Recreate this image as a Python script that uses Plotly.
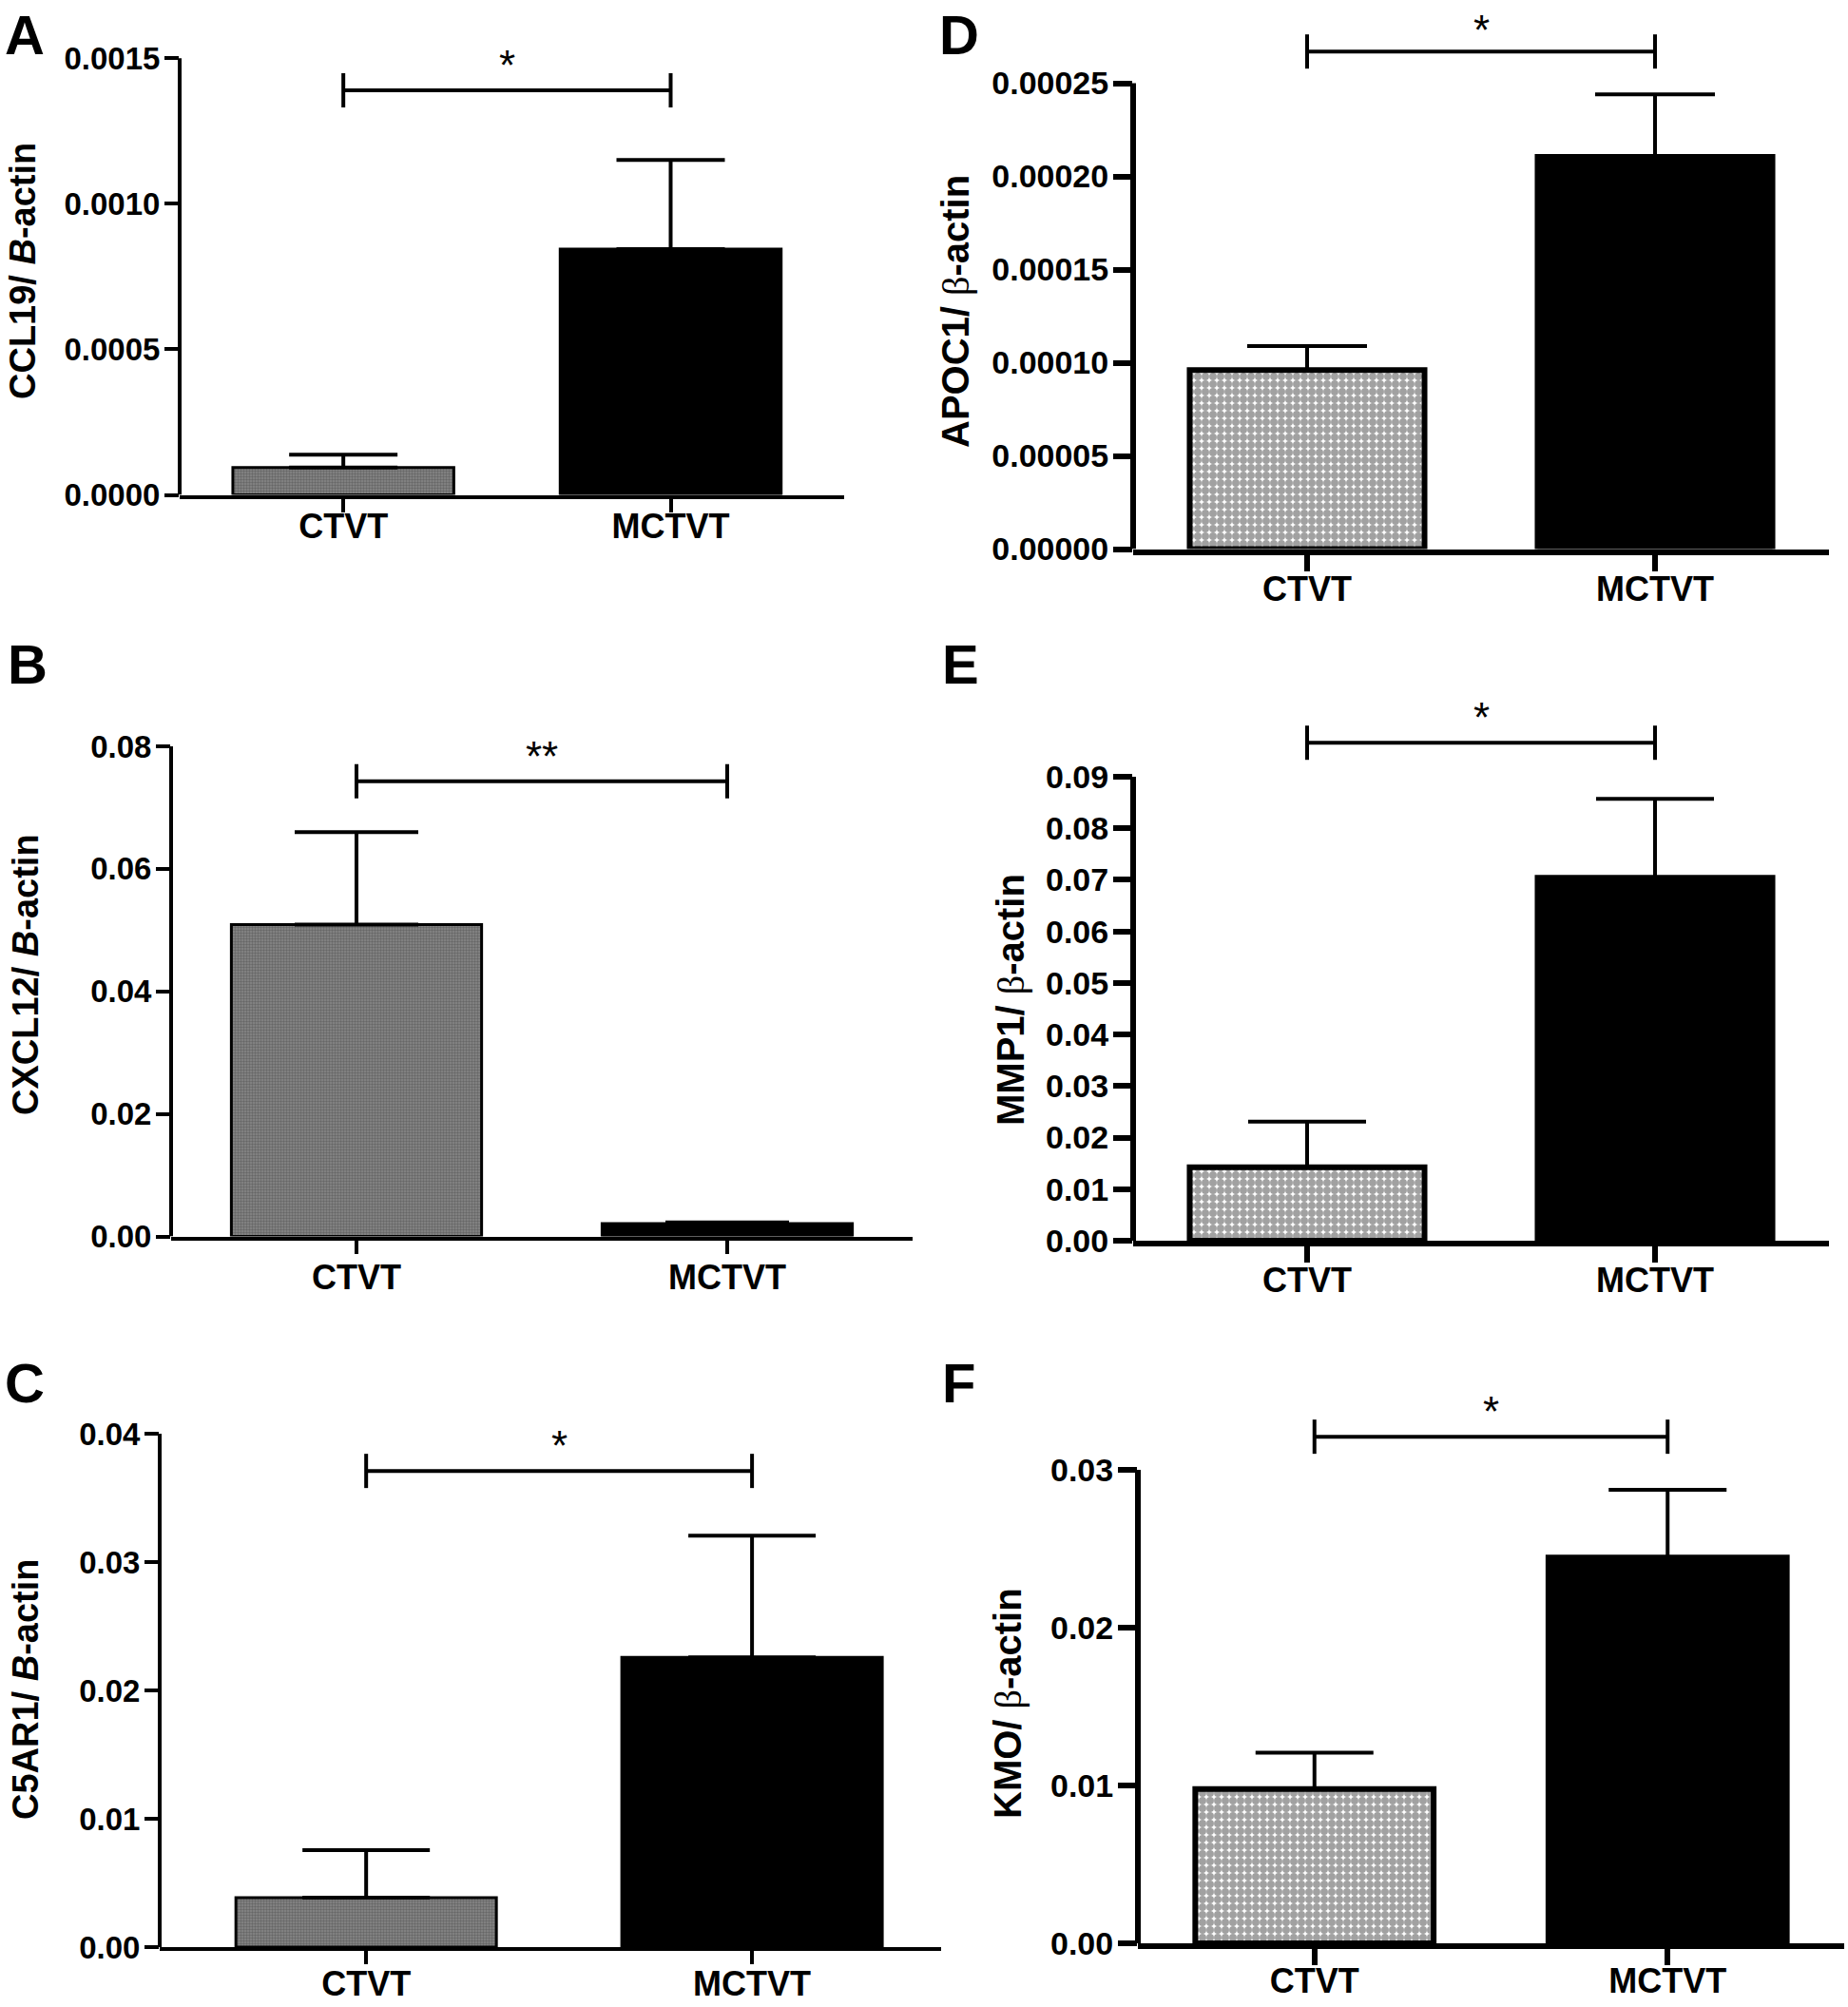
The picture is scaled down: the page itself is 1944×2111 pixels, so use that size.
import plotly.graph_objects as go

W, H = 1944, 2111

# ---- data ----
categories = ["CTVT", "MCTVT"]
panel_letters = ["A", "B", "C", "D", "E", "F"]

ccl19_mean = [0.0000938, 0.000844]
ccl19_sem = [0.000044, 0.000306]

cxcl12_mean = [0.0509, 0.0021]
cxcl12_sem = [0.0151, 0.0002]

c5ar1_mean = [0.00386, 0.02258]
c5ar1_sem = [0.0037, 0.00947]

apoc1_mean = [0.0000960, 0.0002105]
apoc1_sem = [0.0000129, 0.0000335]

mmp1_mean = [0.01425, 0.0704]
mmp1_sem = [0.00885, 0.0153]

kmo_mean = [0.00978, 0.02445]
kmo_sem = [0.0023, 0.00429]

bracket_y = [0.00139, 0.0743, 0.0371, 0.000267, 0.0966, 0.0321]
stars = ["*", "**", "*", "*", "*", "*"]

ticks_a = [0, 0.0005, 0.0010, 0.0015]
ticks_a_text = ["0.0000", "0.0005", "0.0010", "0.0015"]
ticks_b = [0, 0.02, 0.04, 0.06, 0.08]
ticks_b_text = ["0.00", "0.02", "0.04", "0.06", "0.08"]
ticks_c = [0, 0.01, 0.02, 0.03, 0.04]
ticks_c_text = ["0.00", "0.01", "0.02", "0.03", "0.04"]
ticks_d = [0, 0.00005, 0.00010, 0.00015, 0.00020, 0.00025]
ticks_d_text = ["0.00000", "0.00005", "0.00010", "0.00015", "0.00020", "0.00025"]
ticks_e = [0, 0.01, 0.02, 0.03, 0.04, 0.05, 0.06, 0.07, 0.08, 0.09]
ticks_e_text = ["0.00", "0.01", "0.02", "0.03", "0.04", "0.05", "0.06", "0.07", "0.08", "0.09"]
ticks_f = [0, 0.01, 0.02, 0.03]
ticks_f_text = ["0.00", "0.01", "0.02", "0.03"]

beta = "<span style='font-weight:normal;font-family:\"Liberation Serif\", serif'>\u03b2</span>"
titles = [
    "CCL19/ <i>B</i>-actin",
    "CXCL12/ <i>B</i>-actin",
    "C5AR1/ <i>B</i>-actin",
    "APOC1/ " + beta + "-actin",
    "MMP1/ " + beta + "-actin",
    "KMO/ " + beta + "-actin",
]

means = [ccl19_mean, cxcl12_mean, c5ar1_mean, apoc1_mean, mmp1_mean, kmo_mean]
sems = [ccl19_sem, cxcl12_sem, c5ar1_sem, apoc1_sem, mmp1_sem, kmo_sem]
ticks = [ticks_a, ticks_b, ticks_c, ticks_d, ticks_e, ticks_f]
tick_text = [ticks_a_text, ticks_b_text, ticks_c_text, ticks_d_text, ticks_e_text, ticks_f_text]

# ---- layout geometry (pixels in the 1944x2111 canvas) ----
# x_left, x_right, x_range_left, x_range_right, y_zero, y_toptick, y_domtop
geom = [
    (189, 888, -0.5, 1.53, 520.5, 61.2, 20),
    (180, 960, -0.5, 1.5, 1300.6, 785, 740),
    (168, 990, -0.535, 1.49, 2048, 1508, 1470),
    (1192, 1924, -0.5, 1.5, 577.5, 87.5, 0),
    (1192, 1924, -0.5, 1.5, 1305, 817, 720),
    (1197, 1940, -0.5, 1.5, 2044, 1546, 1450),
]
letter_pos = [(3, 36), (6, 698), (3, 1454), (986, 36), (989, 698), (989, 1454)]
title_pos = [(24, 285), (27, 1025), (27, 1777), (1006, 328), (1063, 1052), (1060, 1792)]
title_size = [38, 38, 38, 40, 40, 40]
cap_half = [57, 65, 67, 63, 62, 62]
xlabel_shift = [-16, -6, -10, -12, -12, -14]
star_shift = [0, 0, 0, -4, 0, 0]

FONT = "Liberation Sans, Arial, sans-serif"

fig = go.Figure()
layout = dict(
    width=W, height=H,
    margin=dict(l=0, r=0, t=0, b=0, autoexpand=False),
    paper_bgcolor="white", plot_bgcolor="white",
    showlegend=False,
    shapes=[], annotations=[],
)

for i in range(6):
    n = "" if i == 0 else str(i + 1)
    xl, xr, r0, r1, yz, yt, ydt = geom[i]
    heavy = i >= 3
    lw = 6 if heavy else 4
    top_val = ticks[i][-1]
    y_top = top_val * (yz - ydt) / (yz - yt)

    if heavy:
        # coarse black/white checker for panels D-F
        pat = dict(shape=[".", ""], fgcolor=["black", "black"], bgcolor=["white", "black"],
                   size=8, solidity=0.76)
        colors = ["white", "black"]
        edge = 6
    else:
        # fine grey stipple for panels A-C
        pat = dict(shape=[".", ""], fgcolor=["#4a4a4a", "black"], bgcolor=["#c8c8c8", "black"],
                   size=3, solidity=0.5)
        colors = ["#888888", "black"]
        edge = 3

    fig.add_trace(go.Bar(
        x=categories, y=means[i],
        width=0.675,
        marker=dict(color=colors, pattern=pat, line=dict(color="black", width=edge)),
        error_y=dict(type="data", array=sems[i], arrayminus=[0, 0], symmetric=False,
                     color="black", thickness=4, width=cap_half[i]),
        xaxis="x" + n, yaxis="y" + n,
    ))

    layout["xaxis" + n] = dict(
        domain=[xl / W, xr / W], anchor="y" + n, type="category", automargin=False,
        range=[r0, r1], showline=True, linecolor="black", linewidth=lw,
        ticks="outside", ticklen=17 if heavy else 14, tickwidth=lw, tickcolor="black",
        ticklabelstandoff=xlabel_shift[i],
        showgrid=False, zeroline=False, fixedrange=True,
        tickfont=dict(family=FONT, size=36, color="black", weight="bold"),
    )
    layout["yaxis" + n] = dict(
        domain=[1 - yz / H, 1 - ydt / H], anchor="x" + n, automargin=False,
        range=[0, y_top], showline=False,
        tickvals=ticks[i], ticktext=tick_text[i],
        ticks="outside", ticklen=20 if heavy else 15, tickwidth=lw, tickcolor="black",
        ticklabelstandoff=-2,
        showgrid=False, zeroline=False, fixedrange=True,
        tickfont=dict(family=FONT, size=34 if heavy else 33, color="black", weight="bold"),
    )

    # y axis line only up to the top tick
    layout["shapes"].append(dict(
        type="line", xref="x" + n + " domain", yref="y" + n,
        x0=0, x1=0, y0=0, y1=top_val, line=dict(color="black", width=lw),
    ))
    # significance bracket
    b = bracket_y[i]
    layout["shapes"].append(dict(
        type="line", xref="x" + n, yref="y" + n, x0=0, x1=1, y0=b, y1=b,
        line=dict(color="black", width=4),
    ))
    for xe in (0, 1):
        layout["shapes"].append(dict(
            type="line", xref="x" + n, yref="y" + n, ysizemode="pixel", yanchor=b,
            x0=xe, x1=xe, y0=-18, y1=18, line=dict(color="black", width=4),
        ))
    layout["annotations"].append(dict(
        xref="x" + n, yref="y" + n, x=0.5, y=b, text=stars[i], showarrow=False,
        yanchor="bottom", yshift=star_shift[i], font=dict(family=FONT, size=44, color="black"),
    ))
    # panel letter
    lx, ly = letter_pos[i]
    layout["annotations"].append(dict(
        xref="paper", yref="paper", x=lx / W, y=1 - ly / H, xanchor="left", yanchor="middle",
        text="<b>" + panel_letters[i] + "</b>", showarrow=False,
        font=dict(family=FONT, size=58, color="black"),
    ))
    # y title
    tx, ty = title_pos[i]
    layout["annotations"].append(dict(
        xref="paper", yref="paper", x=tx / W, y=1 - ty / H, xanchor="center", yanchor="middle",
        text="<b>" + titles[i] + "</b>", textangle=-90, showarrow=False,
        font=dict(family=FONT, size=title_size[i], color="black"),
    ))

fig.update_layout(**layout)
fig.write_html(
    "out.html",
    config={"displayModeBar": False},
    post_script="document.body.style.margin='0';document.body.style.overflow='hidden';",
)
